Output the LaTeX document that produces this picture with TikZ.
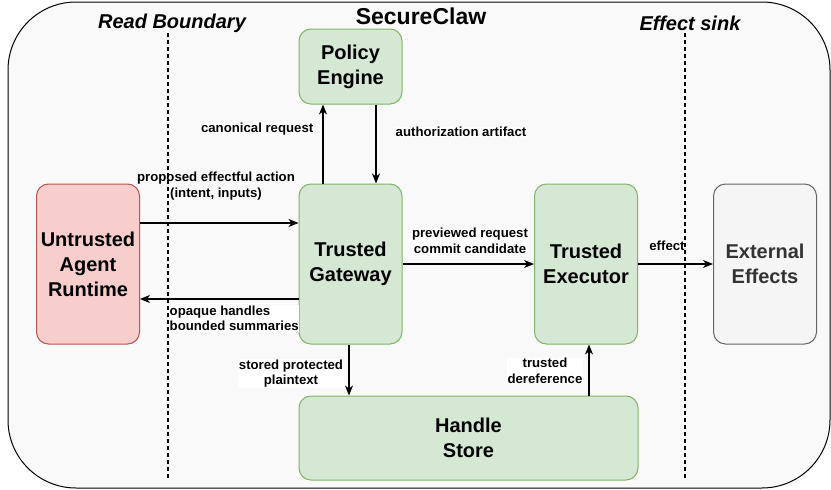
\documentclass[tikz,border=0pt]{standalone}
\usepackage{fontspec}
\setmainfont{Liberation Sans}
\usepackage{tikz}
\usetikzlibrary{arrows.meta}
\usetikzlibrary{shapes,fit,calc}

\definecolor{gfill}{HTML}{D5E8D4}
\definecolor{gline}{HTML}{82B366}
\definecolor{rfill}{HTML}{F8CECC}
\definecolor{rline}{HTML}{B85450}
\definecolor{xfill}{HTML}{F5F5F5}
\definecolor{xline}{HTML}{666666}
\definecolor{xtext}{HTML}{333333}
\definecolor{panel}{HTML}{F9F9F9}

\begin{document}
\begin{tikzpicture}[x=1pt,y=-1pt]
    \tikzstyle{dedge} = [line width=1.5pt,-{Stealth[length=10pt,width=8pt,inset=3pt]},draw=black]
    \tikzstyle{bound} = [line width=1.5pt,dash pattern=on 4pt off 3pt,draw=black]
    \tikzstyle{box}=[
      rectangle,
      rounded corners=12pt,
      line width=1pt,
      anchor=center,
      align=center,
      inner sep=2pt,
      minimum width=103pt,
      minimum height=160pt,
      font=\bfseries\fontsize{20}{25}\selectfont,
    ]
    \tikzstyle{gbox}=[box,fill=gfill,draw=gline]
    \tikzstyle{lbl}=[fill=white,inner sep=0.5pt,align=center,
      font=\bfseries\fontsize{13.2}{15.5}\selectfont]
    \tikzstyle{ttl}=[inner sep=0pt,font=\bfseries\itshape\fontsize{20}{24}\selectfont]

    \useasboundingbox (0,0) rectangle (831,490);
    \draw[line width=1pt,fill=panel,rounded corners=68pt] (8,2) rectangle (830,488);

    \node[font=\bfseries\fontsize{23}{27}\selectfont,inner sep=0pt] (title) at (421,16) {SecureClaw};
    \node[ttl] (readlbl) at (172,23) {Read Boundary};
    \node[ttl] (sinklbl) at (690,23) {Effect sink};

    \node[gbox,minimum height=75pt] (policy) at (350.5,66.5) {Policy\\Engine};
    \node[box,fill=rfill,draw=rline] (agent) at (88,264) {Untrusted\\Agent\\Runtime};
    \node[gbox] (gateway) at (350.5,264) {Trusted\\Gateway};
    \node[gbox] (executor) at (586,264) {Trusted\\Executor};
    \node[box,fill=xfill,draw=xline,text=xtext] (effects) at (765,264) {External\\Effects};
    \node[gbox,minimum width=339pt,minimum height=84pt] (store) at (468.5,438) {Handle\\Store};

    \draw[dedge] ([xshift=-27.5pt]gateway.north) -- ([xshift=-27.5pt]policy.south);
    \draw[dedge] ([xshift=25.5pt]policy.south) -- ([xshift=25.5pt]gateway.north);
    \draw[dedge] ([yshift=41pt]agent.east) -- ([yshift=41pt]gateway.west);
    \draw[dedge] ([yshift=-35pt]gateway.west) -- ([yshift=-35pt]agent.east);
    \draw[dedge] (gateway.east) -- (executor.west);
    \draw[dedge] (executor.east) -- (effects.west);
    \draw[dedge] ([xshift=-1.5pt]gateway.south) -- ([xshift=-1.5pt]gateway.south |- store.north);
    \draw[dedge] ([xshift=3pt]executor.south |- store.north) -- ([xshift=3pt]executor.south);

    \node[lbl,anchor=east] (lcanon) at (314,129) {canonical request};
    \node[lbl,anchor=west] (lauth) at (395,132) {authorization artifact};
    \node[lbl,fill=none] (lprop) at (216,186) {proposed effectful action\\(intent, inputs)};
    \node[lbl,anchor=west,align=left] (lopaque) at (169,318.5) {opaque handles\\bounded summaries};
    \node[lbl] (lprev) at (470,241) {previewed request\\commit candidate};
    \node[lbl] (leffect) at (667,246) {effect};
    \node[lbl] (lstored) at (291,373.5) {stored protected\\plaintext};
    \node[lbl] (lderef) at (545,371) {trusted\\dereference};

    % boundaries
    \coordinate (rtop) at (168,33);
    \coordinate (rbot) at (168,480);
    \coordinate (stop) at (685,33);
    \coordinate (sbot) at (685,480);
    \draw[bound] (rtop) -- (rbot);
    \draw[bound] (stop) -- (sbot);
  \end{tikzpicture}
\end{document}
